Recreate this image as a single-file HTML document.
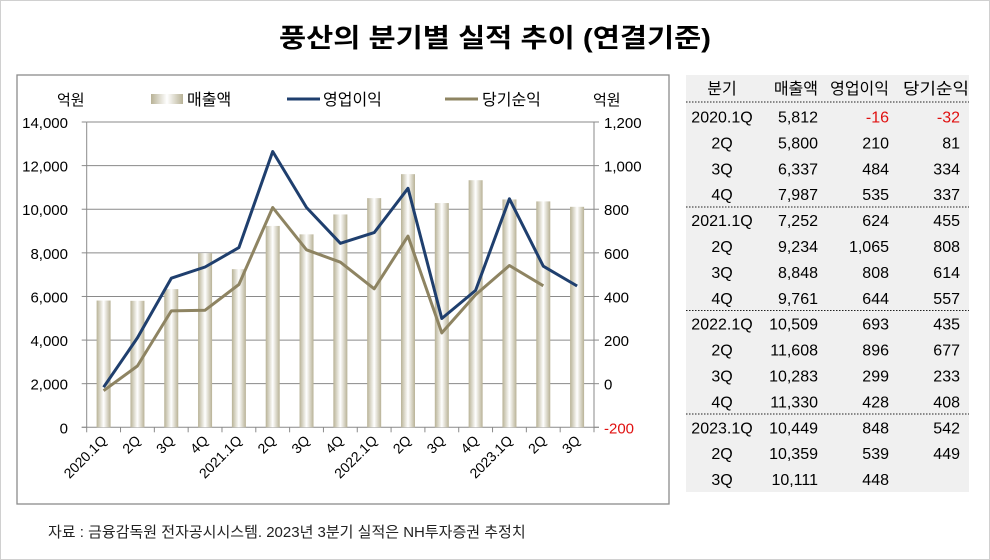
<!DOCTYPE html>
<html><head><meta charset="utf-8"><style>
body{margin:0;background:#fff}
svg{display:block}
text{font-family:"Liberation Sans","Noto Sans CJK KR",sans-serif}
</style></head><body>
<svg id="s" width="990" height="560" viewBox="0 0 990 560" xmlns="http://www.w3.org/2000/svg">
<defs>
<linearGradient id="bg" x1="0" x2="1" y1="0" y2="0">
<stop offset="0" stop-color="#b8b296"/><stop offset="0.5" stop-color="#ffffff"/><stop offset="1" stop-color="#b8b296"/>
</linearGradient>
</defs>
<rect x="0.5" y="0.5" width="989" height="559" fill="#fff" stroke="#d0d0d0"/>
<text x="495" y="47" text-anchor="middle" font-size="26" font-weight="bold" textLength="432" lengthAdjust="spacingAndGlyphs">풍산의 분기별 실적 추이 (연결기준)</text>
<rect x="17" y="75" width="652" height="429" fill="#fff" stroke="#8c8c8c" stroke-width="1.3"/>
<rect x="686" y="75" width="283" height="417" fill="#f0f0f0"/>
<g id="g"></g>
<text x="48" y="537" font-size="15" fill="#222">자료 : 금융감독원 전자공시시스템. 2023년 3분기 실적은 NH투자증권 추정치</text>
</svg>
<script>
const g=document.getElementById('g');let h='';
const L=86.7,R=594,B=427.3,T=122;
const ly=v=>B-v*(B-T)/14000, ry=v=>383.7-v*(B-T)/1400;
for(let i=0;i<=7;i++){const y=ly(i*2000);
 if(i>0)h+=`<line x1="${L}" x2="${R}" y1="${y}" y2="${y}" stroke="#8a8a8a"/>`;
 h+=`<text x="68" y="${y+6}" text-anchor="end" font-size="15">${(i*2000).toLocaleString('en-US')}</text>`;}
for(let i=0;i<=7;i++){const v=-200+i*200,y=ry(v);
 h+=`<text x="604" y="${y+6}" font-size="15" fill="${v<0?'#e01010':'#000'}">${v.toLocaleString('en-US')}</text>`;}
h+=`<line x1="${L}" x2="${L}" y1="${T}" y2="${B}" stroke="#8a8a8a"/><line x1="${R}" x2="${R}" y1="${T}" y2="${B}" stroke="#8a8a8a"/><line x1="${L-5}" x2="${R+5}" y1="${B}" y2="${B}" stroke="#8a8a8a"/>`;
for(let i=0;i<=7;i++){const y=ly(i*2000);h+=`<line x1="${L-5}" x2="${L}" y1="${y}" y2="${y}" stroke="#8a8a8a"/><line x1="${R}" x2="${R+5}" y1="${y}" y2="${y}" stroke="#8a8a8a"/>`;}
const st=(R-L)/15;
const cats=['2020.1Q','2Q','3Q','4Q','2021.1Q','2Q','3Q','4Q','2022.1Q','2Q','3Q','4Q','2023.1Q','2Q','3Q'];
const sales=[5812,5800,6337,7987,7252,9234,8848,9761,10509,11608,10283,11330,10449,10359,10111];
const op=[-16,210,484,535,624,1065,808,644,693,896,299,428,848,539,448];
const ni=[-32,81,334,337,455,808,614,557,435,677,233,408,542,449];
for(let i=0;i<=15;i++){const x=L+i*st;h+=`<line x1="${x}" x2="${x}" y1="${B}" y2="${B+5}" stroke="#8a8a8a"/>`;}
sales.forEach((v,i)=>{const c=L+st*(i+.5);h+=`<rect x="${c-7}" y="${ly(v)}" width="14" height="${B-ly(v)}" fill="url(#bg)"/>`;});
cats.forEach((t,i)=>{const c=L+st*(i+.5)+4;h+=`<text transform="translate(${c},${B+14}) rotate(-45)" text-anchor="end" font-size="14">${t}</text>`;});
const pl=(a,col)=>`<polyline fill="none" stroke="${col}" stroke-width="3" stroke-linejoin="round" points="${a.map((v,i)=>(L+st*(i+.5)).toFixed(1)+','+ry(v).toFixed(1)).join(' ')}"/>`;
h+=pl(ni,'#8e8462')+pl(op,'#1f3f6e');
// legend
h+=`<text x="57" y="105" font-size="15">억원</text><text x="593" y="105" font-size="15">억원</text>`;
h+=`<rect x="151" y="94" width="32" height="10" fill="url(#bg)"/><text x="187" y="105" font-size="16">매출액</text>`;
h+=`<line x1="287" x2="320" y1="99" y2="99" stroke="#1f3f6e" stroke-width="3"/><text x="323" y="105" font-size="16">영업이익</text>`;
h+=`<line x1="445" x2="478" y1="99" y2="99" stroke="#8e8462" stroke-width="3"/><text x="482" y="105" font-size="16">당기순익</text>`;
// table
h+=`<text x="722" y="94" text-anchor="middle" font-size="16">분기</text><text x="818" y="94" text-anchor="end" font-size="16">매출액</text><text x="889" y="94" text-anchor="end" font-size="16">영업이익</text><text x="969" y="94" text-anchor="end" font-size="16" textLength="66" lengthAdjust="spacingAndGlyphs">당기순익</text>`;
[102,207,310.5,414].forEach(y=>h+=`<line x1="686" x2="969" y1="${y}" y2="${y}" stroke="#222" stroke-dasharray="1.5,1.5"/>`);
cats.forEach((t,i)=>{const y=122.5+i*25.9;
 h+=`<text x="722" y="${y}" text-anchor="middle" font-size="16">${t}</text><text x="818" y="${y}" text-anchor="end" font-size="16">${sales[i].toLocaleString('en-US')}</text><text x="889" y="${y}" text-anchor="end" font-size="16" fill="${op[i]<0?'#e01010':'#000'}">${op[i].toLocaleString('en-US')}</text>`;
 if(ni[i]!==undefined)h+=`<text x="960" y="${y}" text-anchor="end" font-size="16" fill="${ni[i]<0?'#e01010':'#000'}">${ni[i]}</text>`;});
g.innerHTML=h;
</script>
</body></html>
